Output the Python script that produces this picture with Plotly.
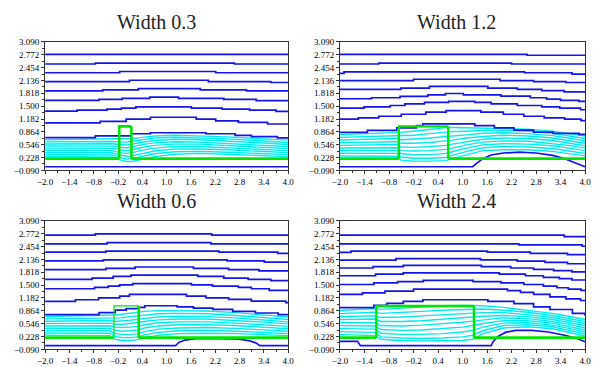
import plotly.graph_objects as go

# ---------------- axes ----------------
X_TICKS = [-2.0, -1.4, -0.8, -0.2, 0.4, 1.0, 1.6, 2.2, 2.8, 3.4, 4.0]
Y_TICKS = [-0.090, 0.228, 0.546, 0.864, 1.182, 1.500, 1.818, 2.136, 2.454, 2.772, 3.090]
TITLES = ["Width 0.3", "Width 1.2", "Width 0.6", "Width 2.4"]

# ---------------- obstacle (green): left edge, right edge, top, ground ----------------
OBST_W03 = [-0.17, 0.13, 1.00, 0.20]
OBST_W12 = [-0.56, 0.65, 1.00, 0.20]
OBST_W06 = [-0.30, 0.31, 0.985, 0.20]
OBST_W24 = [-1.11, 1.28, 0.985, 0.20]

# ---------------- upper streamlines (blue, stepped) : (x, y) ----------------
BLUE_W03 = [
    ([-2, 4], [2.785, 2.785]),
    ([-2, -0.76, 2.67, 4], [2.544, 2.568, 2.544, 2.544]),
    ([-2, -0.16, 2.21, 4], [2.327, 2.359, 2.327, 2.327]),
    ([-2, 0.08, 2.03, 3.57, 4], [2.110, 2.142, 2.110, 2.086, 2.086]),
    ([-2, -0.58, 0.30, 1.83, 2.97, 4], [1.877, 1.901, 1.933, 1.901, 1.877, 1.877]),
    ([-2, -0.67, -0.10, 0.58, 1.29, 2.41, 3.21, 4], [1.644, 1.668, 1.692, 1.725, 1.692, 1.668, 1.636, 1.636]),
    ([-2, -1.21, -0.47, -0.12, 0.24, 1.61, 2.37, 3.05, 3.70, 4], [1.379, 1.403, 1.427, 1.451, 1.484, 1.451, 1.427, 1.403, 1.371, 1.371]),
    ([-2, -0.64, 0.0, 0.60, 1.73, 2.21, 2.77, 3.49, 4], [1.085, 1.122, 1.178, 1.226, 1.178, 1.138, 1.098, 1.058, 1.058]),
    ([-2, -0.76, 0.12, 0.60, 1.97, 2.69, 3.09, 3.73, 4], [0.720, 0.765, 0.817, 0.841, 0.817, 0.777, 0.745, 0.715, 0.715]),
]
BLUE_W12 = [
    ([-2, 2.58, 4], [2.785, 2.761, 2.761]),
    ([-2, -1.05, 2.20, 4], [2.544, 2.568, 2.544, 2.544]),
    ([-2, -1.9, 2.52, 3.68, 4], [2.310, 2.351, 2.327, 2.295, 2.295]),
    ([-2, -0.20, 1.92, 2.74, 3.53, 4], [2.134, 2.166, 2.134, 2.110, 2.086, 2.086]),
    ([-2, -0.51, 0.19, 1.62, 2.34, 2.94, 3.49, 4], [1.917, 1.949, 1.990, 1.949, 1.917, 1.885, 1.853, 1.853]),
    ([-2, -1.23, -0.53, 0.15, 0.58, 1.02, 1.94, 2.66, 3.06, 3.40, 3.85, 4],
     [1.684, 1.708, 1.741, 1.781, 1.813, 1.781, 1.749, 1.708, 1.676, 1.644, 1.620, 1.620]),
    ([-2, -1.41, -0.77, -0.41, 0.07, 0.66, 1.30, 1.70, 2.34, 2.94, 3.38, 3.89, 4],
     [1.451, 1.484, 1.516, 1.556, 1.596, 1.620, 1.596, 1.556, 1.516, 1.484, 1.451, 1.411, 1.411]),
    ([-2, -1.55, -1.05, -0.50, 0.10, 0.60, 1.45, 2.00, 2.50, 3.00, 3.50, 3.90, 4],
     [1.178, 1.210, 1.250, 1.300, 1.350, 1.390, 1.350, 1.300, 1.250, 1.210, 1.178, 1.140, 1.140]),
    ([-2, -1.33, -0.61, -0.13, 0.03, 1.30, 1.78, 2.26, 2.74, 3.22, 3.85, 4],
     [0.850, 0.900, 0.960, 1.020, 1.060, 1.020, 0.960, 0.905, 0.857, 0.825, 0.800, 0.800]),
]
BLUE_W06 = [
    ([-2, -0.76, 2.11, 4], [2.737, 2.769, 2.737, 2.737]),
    ([-2, -0.47, 2.09, 4], [2.520, 2.552, 2.520, 2.520]),
    ([-2, -0.50, 2.29, 3.74, 4], [2.319, 2.343, 2.319, 2.287, 2.287]),
    ([-2, -0.56, 2.49, 3.41, 4], [2.102, 2.126, 2.102, 2.070, 2.070]),
    ([-2, -0.50, 0.22, 1.66, 2.53, 3.28, 4], [1.885, 1.917, 1.949, 1.917, 1.885, 1.853, 1.853]),
    ([-2, -0.84, -0.32, 0.12, 1.77, 2.41, 3.01, 3.57, 4], [1.644, 1.676, 1.716, 1.749, 1.716, 1.676, 1.644, 1.612, 1.612]),
    ([-2, -0.78, -0.44, -0.16, 0.16, 1.61, 2.13, 2.77, 3.09, 3.53, 4],
     [1.411, 1.443, 1.475, 1.508, 1.540, 1.508, 1.475, 1.443, 1.411, 1.371, 1.371]),
    ([-2, -1.25, -0.68, -0.16, 0.08, 1.49, 1.97, 2.53, 3.09, 3.94, 4],
     [1.098, 1.138, 1.186, 1.226, 1.274, 1.226, 1.186, 1.146, 1.106, 1.066, 1.066]),
    ([-2, -0.67, -0.27, 0.0, 0.29, 0.46, 1.26, 1.66, 2.14, 2.63, 3.19, 3.75, 4],
     [0.770, 0.820, 0.880, 0.920, 0.950, 0.990, 0.960, 0.930, 0.900, 0.850, 0.810, 0.770, 0.770]),
]
BLUE_W24 = [
    ([-2, 3.49, 4], [2.737, 2.704, 2.704]),
    ([-2, 2.38, 3.93, 4], [2.520, 2.496, 2.463, 2.463]),
    ([-2, -1.73, 1.61, 2.66, 3.57, 4], [2.310, 2.343, 2.319, 2.287, 2.255, 2.255]),
    ([-2, -0.63, 1.44, 2.34, 3.02, 3.57, 4], [2.118, 2.158, 2.126, 2.094, 2.062, 2.030, 2.030]),
    ([-2, -1.19, -0.45, 1.46, 2.18, 2.74, 3.23, 3.68, 4], [1.925, 1.957, 1.990, 1.957, 1.925, 1.893, 1.861, 1.829, 1.829]),
    ([-2, -1.13, -0.45, 1.90, 2.54, 2.98, 3.37, 3.68, 4], [1.733, 1.773, 1.805, 1.773, 1.733, 1.692, 1.660, 1.628, 1.628]),
    ([-2, -1.17, -0.59, 0.04, 1.26, 1.94, 2.50, 2.98, 3.31, 3.59, 3.90, 4],
     [1.516, 1.556, 1.588, 1.620, 1.588, 1.556, 1.516, 1.476, 1.436, 1.403, 1.371, 1.371]),
    ([-2, -1.45, -0.90, -0.20, 2.10, 2.42, 2.74, 3.14, 3.53, 3.89, 4],
     [1.274, 1.310, 1.350, 1.400, 1.363, 1.323, 1.270, 1.210, 1.160, 1.120, 1.120]),
    ([-2, -1.17, -0.85, -0.45, 0.03, 1.62, 2.26, 2.74, 3.14, 3.69, 4],
     [0.945, 1.000, 1.050, 1.100, 1.138, 1.100, 1.042, 0.961, 0.897, 0.800, 0.740]),
]

# ---------------- lowest streamline (blue, with lee-side bubble) ----------------
FLOOR_W03 = ([-2, 4], [0.0, 0.0])
FLOOR_W12 = ([-2, 1.25, 1.35, 1.5, 1.7, 2.0, 2.4, 2.8, 3.2, 3.5, 3.75, 3.9, 4.0],
             [0.0, 0.0, 0.09, 0.20, 0.29, 0.34, 0.36, 0.34, 0.28, 0.20, 0.10, 0.03, 0.0])
FLOOR_W06 = ([-2, 1.22, 1.3, 1.45, 1.75, 2.3, 2.75, 3.05, 3.2, 3.3, 4.0],
             [0.0, 0.0, 0.08, 0.14, 0.18, 0.18, 0.17, 0.12, 0.07, 0.0, 0.0])
FLOOR_W24 = ([-2, -1.57, -1.5, 1.7, 1.75, 1.85, 2.05, 2.3, 2.7, 3.1, 3.5, 3.8, 4.0],
             [0.11, 0.11, 0.0, 0.0, 0.10, 0.22, 0.33, 0.38, 0.38, 0.34, 0.26, 0.18, 0.10])

# ---------------- lower-layer streamlines (cyan) ----------------
CX_W03 = [-2.0, -0.8, -0.35, -0.15, 0.0, 0.15, 0.35, 0.7, 1.2, 1.8, 2.5, 3.2, 4.0]
CY_W03 = [
    [0.252, 0.252, 0.240, 0.170, 0.130, 0.130, 0.170, 0.250, 0.310, 0.330, 0.310, 0.280, 0.250],
    [0.304, 0.304, 0.290, 0.230, 0.190, 0.200, 0.250, 0.320, 0.370, 0.380, 0.360, 0.330, 0.300],
    [0.356, 0.356, 0.345, 0.290, 0.260, 0.270, 0.320, 0.390, 0.440, 0.440, 0.420, 0.380, 0.350],
    [0.408, 0.410, 0.400, 0.350, 0.330, 0.350, 0.400, 0.460, 0.500, 0.500, 0.470, 0.430, 0.400],
    [0.460, 0.465, 0.455, 0.420, 0.400, 0.420, 0.470, 0.530, 0.560, 0.560, 0.530, 0.490, 0.450],
    [0.512, 0.520, 0.510, 0.480, 0.470, 0.490, 0.540, 0.590, 0.620, 0.610, 0.580, 0.540, 0.500],
    [0.564, 0.575, 0.570, 0.550, 0.540, 0.560, 0.600, 0.650, 0.680, 0.670, 0.640, 0.600, 0.550],
    [0.616, 0.630, 0.625, 0.610, 0.610, 0.630, 0.660, 0.710, 0.730, 0.720, 0.690, 0.650, 0.600],
    [0.668, 0.685, 0.685, 0.680, 0.680, 0.700, 0.720, 0.760, 0.780, 0.770, 0.740, 0.700, 0.660],
]
CX_W12 = [-2.0, -1.2, -0.6, -0.5, -0.2, 0.2, 0.6, 0.75, 1.1, 1.5, 2.0, 2.6, 3.2, 3.6, 4.0]
CY_W12 = [
    [0.266, 0.266, 0.260, 0.160, 0.140, 0.140, 0.150, 0.200, 0.300, 0.400, 0.420, 0.420, 0.380, 0.330, 0.270],
    [0.332, 0.332, 0.330, 0.240, 0.210, 0.210, 0.230, 0.280, 0.380, 0.470, 0.500, 0.490, 0.450, 0.390, 0.330],
    [0.398, 0.400, 0.400, 0.320, 0.300, 0.300, 0.330, 0.370, 0.460, 0.540, 0.570, 0.560, 0.520, 0.460, 0.400],
    [0.464, 0.470, 0.470, 0.400, 0.390, 0.400, 0.430, 0.460, 0.540, 0.610, 0.640, 0.630, 0.580, 0.530, 0.460],
    [0.530, 0.540, 0.550, 0.490, 0.480, 0.500, 0.530, 0.560, 0.620, 0.680, 0.710, 0.700, 0.650, 0.590, 0.520],
    [0.596, 0.610, 0.620, 0.580, 0.580, 0.600, 0.640, 0.660, 0.710, 0.750, 0.780, 0.760, 0.710, 0.650, 0.580],
    [0.662, 0.680, 0.700, 0.670, 0.680, 0.710, 0.750, 0.760, 0.790, 0.830, 0.840, 0.820, 0.770, 0.710, 0.640],
    [0.728, 0.750, 0.770, 0.760, 0.780, 0.820, 0.860, 0.870, 0.880, 0.900, 0.900, 0.880, 0.830, 0.770, 0.700],
    [0.794, 0.820, 0.850, 0.850, 0.880, 0.930, 0.970, 0.970, 0.960, 0.960, 0.950, 0.930, 0.880, 0.820, 0.760],
]
CX_W06 = [-2.0, -0.9, -0.4, -0.28, -0.1, 0.1, 0.3, 0.45, 0.8, 1.3, 2.0, 2.7, 3.3, 4.0]
CY_W06 = [
    [0.258, 0.258, 0.250, 0.160, 0.130, 0.130, 0.150, 0.200, 0.260, 0.300, 0.310, 0.300, 0.280, 0.250],
    [0.316, 0.316, 0.310, 0.230, 0.200, 0.200, 0.220, 0.270, 0.330, 0.370, 0.380, 0.360, 0.340, 0.300],
    [0.374, 0.376, 0.370, 0.300, 0.280, 0.280, 0.300, 0.350, 0.410, 0.440, 0.450, 0.430, 0.400, 0.360],
    [0.432, 0.436, 0.430, 0.380, 0.360, 0.370, 0.390, 0.440, 0.490, 0.520, 0.520, 0.500, 0.470, 0.420],
    [0.490, 0.500, 0.495, 0.460, 0.450, 0.460, 0.480, 0.520, 0.570, 0.590, 0.590, 0.560, 0.530, 0.480],
    [0.548, 0.560, 0.560, 0.530, 0.530, 0.550, 0.570, 0.600, 0.640, 0.660, 0.660, 0.630, 0.590, 0.540],
    [0.606, 0.620, 0.625, 0.600, 0.610, 0.630, 0.660, 0.680, 0.710, 0.730, 0.720, 0.690, 0.650, 0.590],
    [0.664, 0.680, 0.690, 0.680, 0.690, 0.720, 0.740, 0.760, 0.790, 0.800, 0.790, 0.750, 0.710, 0.650],
    [0.722, 0.740, 0.760, 0.760, 0.780, 0.810, 0.830, 0.850, 0.870, 0.870, 0.860, 0.820, 0.770, 0.710],
]
CX_W24 = [-2.0, -1.5, -1.15, -1.0, -0.5, 0.0, 0.5, 1.0, 1.25, 1.5, 2.0, 2.6, 3.2, 3.6, 4.0]
CY_W24 = [
    [0.275, 0.270, 0.250, 0.160, 0.130, 0.120, 0.120, 0.130, 0.160, 0.300, 0.440, 0.470, 0.420, 0.330, 0.240],
    [0.349, 0.345, 0.330, 0.220, 0.190, 0.180, 0.190, 0.220, 0.260, 0.370, 0.500, 0.520, 0.470, 0.380, 0.290],
    [0.424, 0.420, 0.410, 0.310, 0.280, 0.280, 0.300, 0.340, 0.380, 0.460, 0.560, 0.570, 0.510, 0.430, 0.340],
    [0.498, 0.500, 0.490, 0.400, 0.380, 0.390, 0.420, 0.460, 0.500, 0.550, 0.620, 0.620, 0.560, 0.480, 0.390],
    [0.573, 0.580, 0.570, 0.500, 0.490, 0.510, 0.540, 0.580, 0.610, 0.640, 0.690, 0.670, 0.600, 0.530, 0.440],
    [0.647, 0.660, 0.660, 0.600, 0.600, 0.620, 0.660, 0.690, 0.710, 0.730, 0.750, 0.720, 0.650, 0.580, 0.500],
    [0.722, 0.740, 0.740, 0.700, 0.710, 0.740, 0.770, 0.800, 0.810, 0.820, 0.820, 0.770, 0.700, 0.630, 0.550],
    [0.796, 0.820, 0.830, 0.800, 0.820, 0.850, 0.880, 0.900, 0.910, 0.910, 0.880, 0.830, 0.750, 0.680, 0.600],
    [0.871, 0.900, 0.920, 0.900, 0.930, 0.960, 0.990, 1.000, 1.000, 0.990, 0.950, 0.880, 0.800, 0.730, 0.650],
]

BLUE = "rgb(20,20,235)"
CYAN = "rgb(0,236,240)"
GREEN = "rgb(0,230,0)"

W, H = 594, 367
# panel placement in pixels: (left, right, top, bottom)
BOXES = [(38, 287, 38, 170), (340, 591, 38, 170), (38, 287, 222, 354), (340, 591, 222, 354)]
TITLE_POS = [(152, 17), (459, 17), (152, 201), (459, 201)]

panels = [
    (BLUE_W03, FLOOR_W03, CX_W03, CY_W03, OBST_W03, 2.6, 2.6),
    (BLUE_W12, FLOOR_W12, CX_W12, CY_W12, OBST_W12, 2.4, 2.4),
    (BLUE_W06, FLOOR_W06, CX_W06, CY_W06, OBST_W06, 1.2, 2.6),
    (BLUE_W24, FLOOR_W24, CX_W24, CY_W24, OBST_W24, 2.4, 2.4),
]

fig = go.Figure()
layout = dict(
    width=W, height=H, margin=dict(l=0, r=0, t=0, b=0),
    paper_bgcolor="white", plot_bgcolor="white", showlegend=False,
    annotations=[],
)

SERIF = "Liberation Serif, DejaVu Serif, Times New Roman, serif"
tick_font = dict(family=SERIF, size=9, color="black")
x_text = [f"{v:.1f}".replace("-", "\u2212") for v in X_TICKS]
y_text = [f"{v:.3f}".replace("-", "\u2212") for v in Y_TICKS]

for i, (blue, floor, cx, cy, obst, w_thin, w_side) in enumerate(panels):
    sfx = "" if i == 0 else str(i + 1)
    xa, ya = "x" + sfx, "y" + sfx
    l, r, t, b = BOXES[i]

    # lower layer
    for row in cy:
        fig.add_trace(go.Scatter(x=cx, y=row, mode="lines", xaxis=xa, yaxis=ya,
                                 line=dict(color=CYAN, width=1.4), hoverinfo="skip"))
    # upper streamlines
    for xs, ys in blue:
        fig.add_trace(go.Scatter(x=xs, y=ys, mode="lines", xaxis=xa, yaxis=ya,
                                 line=dict(color=BLUE, width=1.7, shape="hv"), hoverinfo="skip"))
    fig.add_trace(go.Scatter(x=floor[0], y=floor[1], mode="lines", xaxis=xa, yaxis=ya,
                             line=dict(color=BLUE, width=1.7), hoverinfo="skip"))
    # obstacle and ground
    x0, x1, top, g = obst
    fig.add_trace(go.Scatter(x=[-2, x0], y=[g, g], mode="lines", xaxis=xa, yaxis=ya,
                             line=dict(color=GREEN, width=2.8), hoverinfo="skip"))
    fig.add_trace(go.Scatter(x=[x1, 4], y=[g, g], mode="lines", xaxis=xa, yaxis=ya,
                             line=dict(color=GREEN, width=2.8), hoverinfo="skip"))
    fig.add_trace(go.Scatter(x=[x0, x0, x1], y=[g, top, top], mode="lines", xaxis=xa, yaxis=ya,
                             line=dict(color=GREEN, width=w_thin), hoverinfo="skip"))
    fig.add_trace(go.Scatter(x=[x1, x1], y=[top, g], mode="lines", xaxis=xa, yaxis=ya,
                             line=dict(color=GREEN, width=w_side), hoverinfo="skip"))

    axis_common = dict(showgrid=False, zeroline=False, showline=True, mirror=True,
                       linecolor="#333333", linewidth=1, ticks="outside", ticklen=3,
                       tickcolor="#333333", tickwidth=1, tickfont=tick_font)
    layout["xaxis" + sfx] = dict(
        axis_common, domain=[l / W, r / W], anchor=ya, range=[-2, 4],
        tickmode="array", tickvals=X_TICKS, ticktext=x_text,
        minor=dict(ticks="outside", ticklen=2, tick0=-2.0, dtick=0.3, tickcolor="#333333"),
    )
    layout["yaxis" + sfx] = dict(
        axis_common, domain=[1 - b / H, 1 - t / H], anchor=xa, range=[-0.09, 3.09],
        tickmode="array", tickvals=Y_TICKS, ticktext=y_text,
        minor=dict(ticks="outside", ticklen=2, tick0=-0.09, dtick=0.159, tickcolor="#333333"),
    )
    tx, ty = TITLE_POS[i]
    layout["annotations"].append(dict(
        text=TITLES[i], xref="paper", yref="paper", x=tx / W, y=1 - ty / H,
        xanchor="center", yanchor="middle", showarrow=False,
        font=dict(family=SERIF, size=20, color="#222222"),
    ))

fig.update_layout(**layout)
fig.write_html("out.html")
